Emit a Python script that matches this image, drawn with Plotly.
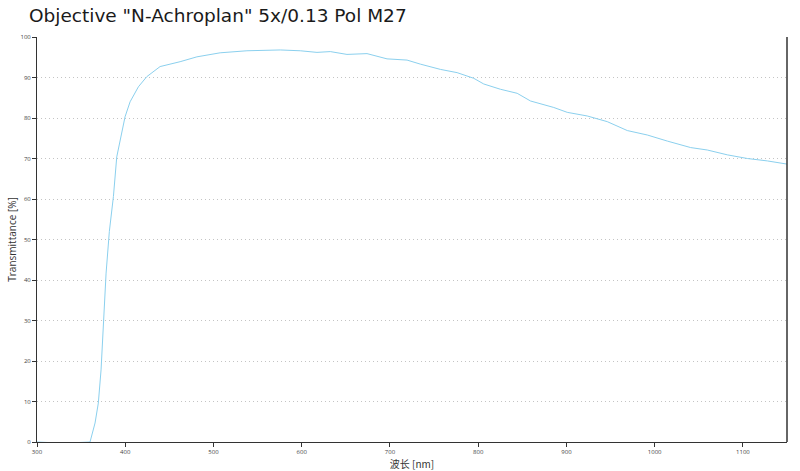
import plotly.graph_objects as go

wavelength_nm = [300, 320, 340, 355, 360.1, 365.8, 369.5, 372.6, 375.2, 378.3, 382, 384, 386.6, 390.4,
                 394.2, 399.8, 405.5, 414.9, 424.4, 439.5, 462.2, 481.2, 507.6, 537.9, 575.7,
                 598.4, 617.3, 632.4, 651.3, 674, 696.7, 719.4, 734.5, 757.2, 776.1, 795, 806.3,
                 825.2, 844.2, 859.3, 885.7, 900.9, 923.6, 946.3, 969, 991.7, 1014.4, 1040.8,
                 1059.7, 1082.4, 1105.1, 1127.8, 1150.5]
transmittance_pct = [0, -0.2, -0.2, -0.1, 0, 4.7, 9.6, 17.8, 29, 41.7, 52, 55.5, 60.6, 70.4,
                     74.6, 80.3, 84, 87.7, 90.2, 92.7, 93.9, 95.1, 96.1, 96.6, 96.8,
                     96.6, 96.2, 96.4, 95.7, 95.9, 94.6, 94.3, 93.3, 92.0, 91.2, 89.8, 88.4,
                     87.1, 86.1, 84.2, 82.6, 81.4, 80.5, 79.1, 76.9, 75.8, 74.3, 72.7,
                     72.1, 70.9, 70.0, 69.4, 68.6]
x_ticks = [300, 400, 500, 600, 700, 800, 900, 1000, 1100]
y_ticks = [0, 10, 20, 30, 40, 50, 60, 70, 80, 90, 100]

fig = go.Figure()
fig.add_trace(go.Scatter(x=wavelength_nm, y=transmittance_pct, mode="lines",
                         line=dict(color="#8bd0ee", width=1), showlegend=False))

fig.update_layout(
    width=800, height=471,
    margin=dict(l=37, r=13, t=37, b=29),
    paper_bgcolor="white", plot_bgcolor="white",
    font=dict(family="Open Sans, DejaVu Sans, sans-serif", color="#333"),
    title=dict(text='Objective "N-Achroplan" 5x/0.13 Pol M27', x=29/800, xref="container",
               xanchor="left", y=1-16/471, yref="container", yanchor="middle",
               font=dict(size=18.5, color="#1a1a1a", family="DejaVu Sans, sans-serif")),
    xaxis=dict(range=[300, 1150], tickvals=x_ticks, ticks="outside", ticklen=4, tickcolor="#333",
               showline=True, linecolor="#333", linewidth=1, showgrid=False, zeroline=False,
               automargin=False, tickfont=dict(size=6, color="#444"),
               title=dict(text="波长 [nm]", standoff=1,
                          font=dict(size=10, color="#333", family="Noto Sans CJK SC, sans-serif"))),
    yaxis=dict(range=[0, 100], tickvals=y_ticks, ticks="outside", ticklen=4, tickcolor="#333",
               showline=True, linecolor="#333", linewidth=1, showgrid=True, gridcolor="#c4c4c4",
               griddash="1px,3px", gridwidth=1, zeroline=False, automargin=False,
               tickfont=dict(size=6, color="#444"),
               title=dict(text="Transmittance [%]", standoff=2, font=dict(size=10, color="#333"))),
)
fig.add_shape(type="line", xref="paper", yref="paper", x0=1, x1=1, y0=0, y1=1,
              line=dict(color="#333", width=1.5))
fig.write_html("out.html", config={"displayModeBar": False},
               post_script="document.body.style.margin='0';")
